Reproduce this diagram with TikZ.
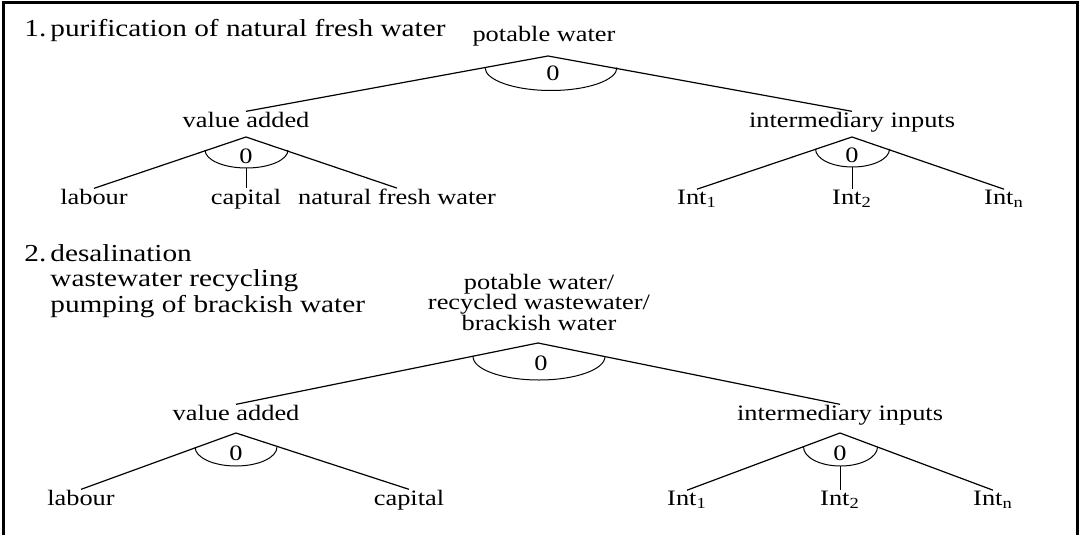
\documentclass[tikz,border=0pt]{standalone}
\usepackage{fontspec}
\setmainfont{Liberation Serif}[FakeStretch=1.2]

\begin{document}
\begin{tikzpicture}[
    x=0.5pt, y=-0.5pt,
    lbl/.style={inner sep=0pt, font=\fontsize{11}{10.3}\selectfont, align=center},
    leaf/.style={lbl, anchor=base},
    head/.style={inner sep=0pt, anchor=base west, font=\fontsize{12.2}{12.9}\selectfont},
    branch/.style={line width=0.6pt},
    nest/.style={line width=0.5pt},
    frame/.style={line width=1.5pt}
]
\useasboundingbox (0,0) rectangle (1079,535);
\draw[frame] (3,535) -- (3,3) -- (1077.5,3) -- (1077.5,535);

\node[head] (hda) at (24,37) {\begin{tabular}[t]{@{}p{13pt}@{}l@{}}1. & purification of natural fresh water\end{tabular}};

\node[leaf] (pw) at (544,42) {potable water};
\coordinate (pwtip) at (548,56);
\node[leaf] (va) at (246,127) {value added};
\node[leaf] (ii) at (852,127) {intermediary inputs};
\draw[branch] (va.north) -- (pwtip) -- (ii.north);
\draw[nest] (485,67.5) arc[start angle=180, end angle=360, x radius=33pt, y radius=11.5pt];
\node[lbl] (pwz) at (553,73) {0};

\coordinate (vatip) at (246,137);
\node[leaf] (lab) at (94,204) {labour};
\node[leaf] (cap) at (246,204) {capital};
\node[leaf] (nfw) at (397,204) {natural fresh water};
\draw[branch] (lab.north) -- (vatip) -- (nfw.north);
\draw[nest] (205,150) arc[start angle=180, end angle=360, x radius=20.75pt, y radius=9pt];
\draw[nest] (246,168) -- (cap.north);
\node[lbl] (vaz) at (246,156) {0};

\coordinate (iitip) at (852,137);
\node[leaf] (ia) at (697,204) {Int\textsubscript{1}};
\node[leaf] (ib) at (852,204) {Int\textsubscript{2}};
\node[leaf] (ic) at (1004,204) {Int\textsubscript{n}};
\draw[branch] (ia.north) -- (iitip) -- (ic.north);
\draw[nest] (815.5,149) arc[start angle=180, end angle=360, x radius=18.5pt, y radius=9pt];
\draw[nest] (852,167) -- (ib.north);
\node[lbl] (iiz) at (852,155) {0};

\node[head] (hdb) at (24,261) {\begin{tabular}[t]{@{}p{13pt}@{}l@{}}2. & desalination\\ & wastewater recycling\\ & pumping of brackish water\end{tabular}};

\node[lbl, anchor=south] (pwb) at (539,331) {potable water/\\recycled wastewater/\\brackish water};
\coordinate (pwbtip) at (538,343);
\node[leaf] (vab) at (236,420) {value added};
\node[leaf] (iib) at (840,420) {intermediary inputs};
\draw[branch] (vab.north) -- (pwbtip) -- (iib.north);
\draw[nest] (473,356.5) arc[start angle=180, end angle=360, x radius=33pt, y radius=11.75pt];
\node[lbl] (pwbz) at (541,363) {0};

\coordinate (vabtip) at (236,433);
\node[leaf] (labb) at (81,505) {labour};
\node[leaf] (capb) at (409,505) {capital};
\draw[branch] (labb.north) -- (vabtip) -- (capb.north);
\draw[nest] (195,447) arc[start angle=180, end angle=360, x radius=20.5pt, y radius=9.5pt];
\node[lbl] (vabz) at (236,453) {0};

\coordinate (iibtip) at (840,433);
\node[leaf] (iab) at (687,505) {Int\textsubscript{1}};
\node[leaf] (ibb) at (840,505) {Int\textsubscript{2}};
\node[leaf] (icb) at (993,505) {Int\textsubscript{n}};
\draw[branch] (iab.north) -- (iibtip) -- (icb.north);
\draw[nest] (803.5,447) arc[start angle=180, end angle=360, x radius=18.5pt, y radius=9.5pt];
\draw[nest] (840,466) -- (ibb.north);
\node[lbl] (iibz) at (840,453) {0};
\end{tikzpicture}
\end{document}
